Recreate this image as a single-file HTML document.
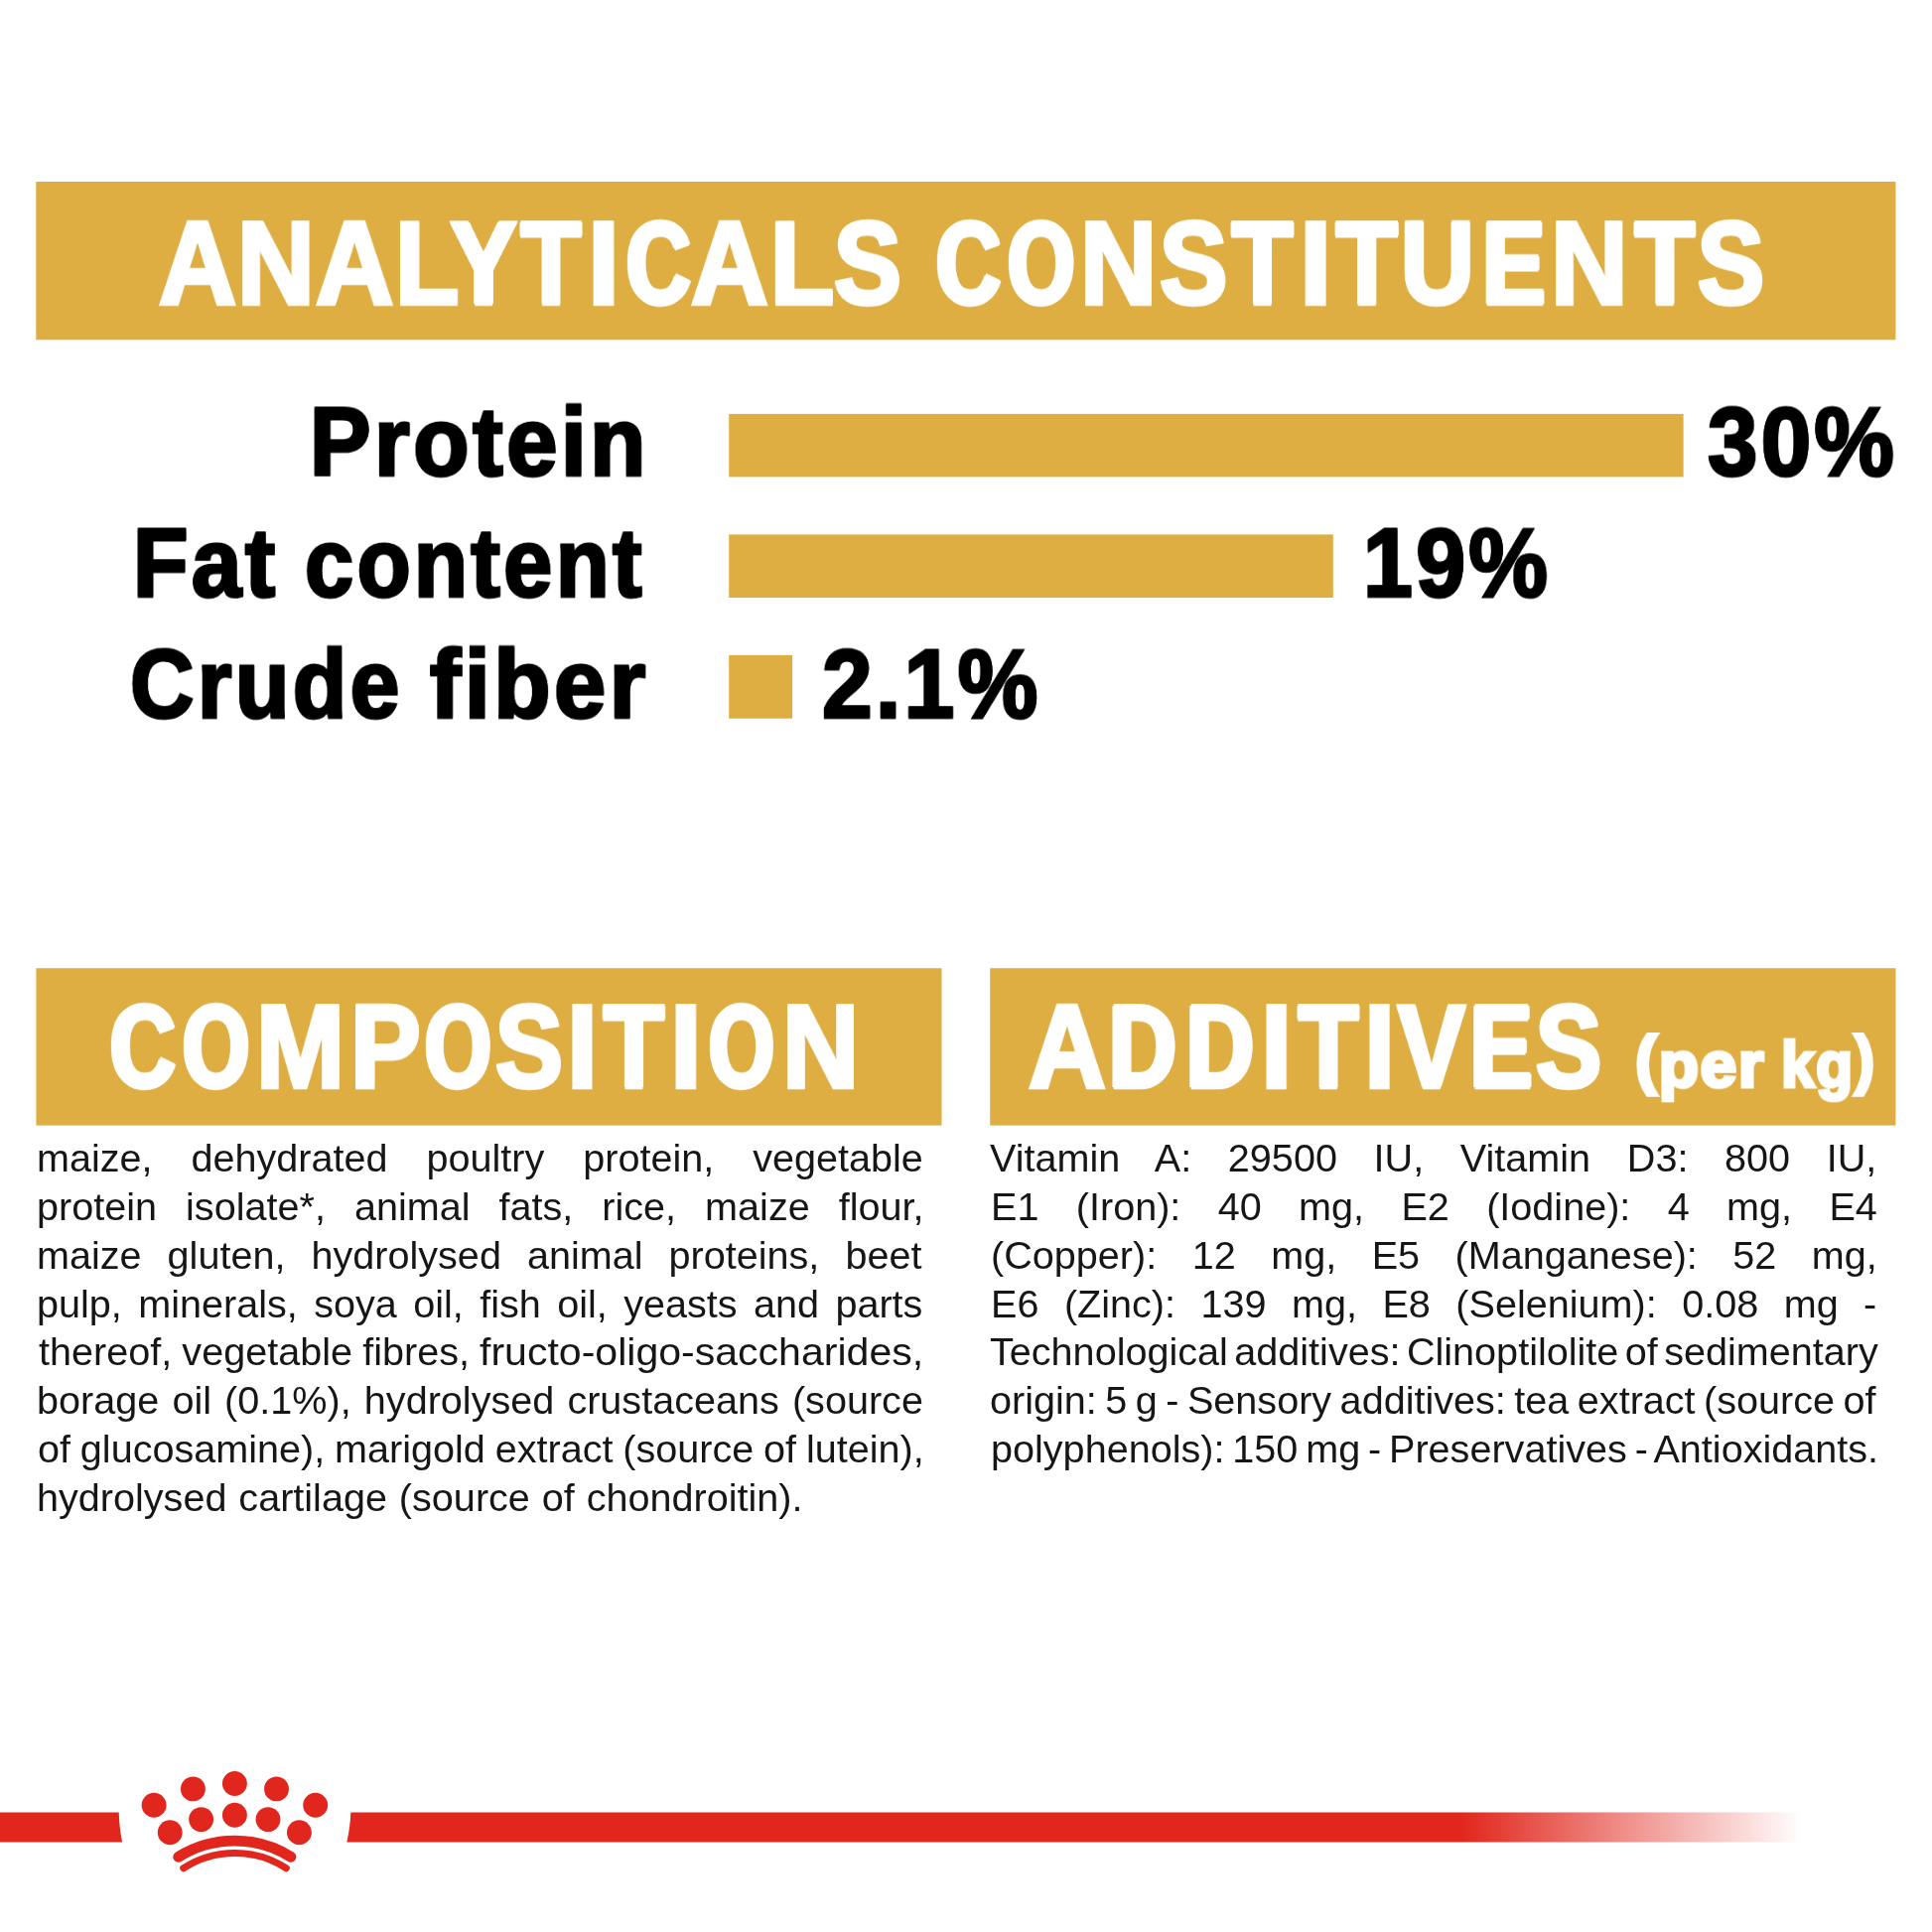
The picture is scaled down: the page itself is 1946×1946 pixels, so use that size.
<!DOCTYPE html>
<html><head><meta charset="utf-8"><title>Analytical constituents</title>
<style>
html,body{margin:0;padding:0;background:#fff}
body{width:1946px;height:1946px;position:relative;overflow:hidden;font-family:"Liberation Sans",sans-serif}
svg{position:absolute;left:0;top:0}
.t{position:absolute;white-space:pre;line-height:1;transform-origin:0 0;will-change:transform;font-family:"Liberation Sans",sans-serif}
.b{font-weight:bold}
.pr{font-style:normal;position:relative;top:-6px}
.p{font-size:39.0px;color:#161616}
</style></head><body>
<svg width="1946" height="1946" viewBox="0 0 1946 1946">
<rect x="36.3" y="183.0" width="1873.1" height="159.3" fill="#DFAE43"/><rect x="734.2" y="416.9" width="961.4" height="63.5" fill="#DFAE43"/><rect x="734.2" y="538.4" width="608.6" height="63.6" fill="#DFAE43"/><rect x="734.2" y="659.9" width="63.9" height="63.8" fill="#DFAE43"/><rect x="36.4" y="975.2" width="912.1" height="158.4" fill="#DFAE43"/><rect x="997.2" y="975.2" width="912.2" height="158.4" fill="#DFAE43"/>
<defs><linearGradient id="g" gradientUnits="userSpaceOnUse" x1="1472" y1="0" x2="1815" y2="0"><stop offset="0" stop-color="#E1271D"/><stop offset="1" stop-color="#E1271D" stop-opacity="0"/></linearGradient></defs><path d="M0 1825.6 H119.7 Q120.3 1842 123.1 1855.5 H0 Z" fill="#E1271D"/><path d="M353.3 1825.6 H1946 V1855.5 H349.3 Q352.6 1842 353.3 1825.6 Z" fill="url(#g)"/>
<g fill="#E1271D"><circle cx="155.1" cy="1818.3" r="12.45"/><circle cx="194.4" cy="1801.9" r="12.45"/><circle cx="236.4" cy="1796.5" r="12.45"/><circle cx="278.5" cy="1801.9" r="12.45"/><circle cx="317.7" cy="1818.3" r="12.45"/><circle cx="171.2" cy="1845.8" r="12.45"/><circle cx="202.6" cy="1832.6" r="12.45"/><circle cx="236.4" cy="1828.3" r="12.45"/><circle cx="270.0" cy="1832.6" r="12.45"/><circle cx="301.4" cy="1845.8" r="12.45"/><path d="M179.7 1870.3 A107.2 107.2 0 0 1 293.0 1870.3" fill="none" stroke="#E1271D" stroke-width="10.8" stroke-linecap="round"/><path d="M184.7 1881.7 A95.3 95.3 0 0 1 288.3 1881.7" fill="none" stroke="#E1271D" stroke-width="7.0" stroke-linecap="round"/></g>
</svg>
<span class="t b" style="left:159.80px;top:206.28px;font-size:124.5px;color:#fff;-webkit-text-stroke:4.5px #fff;transform:scale(0.8670,0.9511);text-shadow:1.00px 0 0 #fff,-1.00px 0 0 #fff,1.60px 0 0 #fff,-1.60px 0 0 #fff">A</span><span class="t b" style="left:238.72px;top:206.28px;font-size:124.5px;color:#fff;-webkit-text-stroke:4.5px #fff;transform:scale(0.8641,0.9511);text-shadow:1.00px 0 0 #fff,-1.00px 0 0 #fff,1.75px 0 0 #fff,-1.75px 0 0 #fff">N</span><span class="t b" style="left:317.80px;top:206.28px;font-size:124.5px;color:#fff;-webkit-text-stroke:4.5px #fff;transform:scale(0.8704,0.9511);text-shadow:1.00px 0 0 #fff,-1.00px 0 0 #fff,1.50px 0 0 #fff,-1.50px 0 0 #fff">A</span><span class="t b" style="left:397.54px;top:206.28px;font-size:124.5px;color:#fff;-webkit-text-stroke:4.5px #fff;transform:scale(0.8438,0.9511);text-shadow:1.00px 0 0 #fff,-1.00px 0 0 #fff,2.00px 0 0 #fff,-2.00px 0 0 #fff,2.35px 0 0 #fff,-2.35px 0 0 #fff">L</span><span class="t b" style="left:454.49px;top:206.28px;font-size:124.5px;color:#fff;-webkit-text-stroke:4.5px #fff;transform:scale(0.7942,0.9511);text-shadow:1.00px 0 0 #fff,-1.00px 0 0 #fff,2.00px 0 0 #fff,-2.00px 0 0 #fff,3.00px 0 0 #fff,-3.00px 0 0 #fff,3.35px 0 0 #fff,-3.35px 0 0 #fff">Y</span><span class="t b" style="left:525.48px;top:206.28px;font-size:124.5px;color:#fff;-webkit-text-stroke:4.5px #fff;transform:scale(0.7888,0.9511);text-shadow:1.00px 0 0 #fff,-1.00px 0 0 #fff,2.00px 0 0 #fff,-2.00px 0 0 #fff,3.00px 0 0 #fff,-3.00px 0 0 #fff,3.10px 0 0 #fff,-3.10px 0 0 #fff">T</span><span class="t b" style="left:592.28px;top:206.28px;font-size:124.5px;color:#fff;-webkit-text-stroke:4.5px #fff;transform:scale(0.9200,0.9511);text-shadow:1.00px 0 0 #fff,-1.00px 0 0 #fff">I</span><span class="t b" style="left:630.78px;top:206.28px;font-size:124.5px;color:#fff;-webkit-text-stroke:4.5px #fff;transform:scale(0.7173,0.9511);text-shadow:1.00px 0 0 #fff,-1.00px 0 0 #fff,2.00px 0 0 #fff,-2.00px 0 0 #fff,3.00px 0 0 #fff,-3.00px 0 0 #fff,4.00px 0 0 #fff,-4.00px 0 0 #fff">C</span><span class="t b" style="left:696.30px;top:206.28px;font-size:124.5px;color:#fff;-webkit-text-stroke:4.5px #fff;transform:scale(0.8626,0.9511);text-shadow:1.00px 0 0 #fff,-1.00px 0 0 #fff,1.70px 0 0 #fff,-1.70px 0 0 #fff">A</span><span class="t b" style="left:776.45px;top:206.28px;font-size:124.5px;color:#fff;-webkit-text-stroke:4.5px #fff;transform:scale(0.8409,0.9511);text-shadow:1.00px 0 0 #fff,-1.00px 0 0 #fff,2.00px 0 0 #fff,-2.00px 0 0 #fff,2.45px 0 0 #fff,-2.45px 0 0 #fff">L</span><span class="t b" style="left:840.09px;top:206.28px;font-size:124.5px;color:#fff;-webkit-text-stroke:4.5px #fff;transform:scale(0.8138,0.9511);text-shadow:1.00px 0 0 #fff,-1.00px 0 0 #fff,2.00px 0 0 #fff,-2.00px 0 0 #fff,2.80px 0 0 #fff,-2.80px 0 0 #fff">S</span> <span class="t b" style="left:943.38px;top:206.28px;font-size:124.5px;color:#fff;-webkit-text-stroke:4.5px #fff;transform:scale(0.7218,0.9511);text-shadow:1.00px 0 0 #fff,-1.00px 0 0 #fff,2.00px 0 0 #fff,-2.00px 0 0 #fff,3.00px 0 0 #fff,-3.00px 0 0 #fff,4.00px 0 0 #fff,-4.00px 0 0 #fff">C</span><span class="t b" style="left:1014.50px;top:206.28px;font-size:124.5px;color:#fff;-webkit-text-stroke:4.5px #fff;transform:scale(0.6952,0.9511);text-shadow:1.00px 0 0 #fff,-1.00px 0 0 #fff,2.00px 0 0 #fff,-2.00px 0 0 #fff,3.00px 0 0 #fff,-3.00px 0 0 #fff,4.00px 0 0 #fff,-4.00px 0 0 #fff">O</span><span class="t b" style="left:1088.35px;top:206.28px;font-size:124.5px;color:#fff;-webkit-text-stroke:4.5px #fff;transform:scale(0.8577,0.9511);text-shadow:1.00px 0 0 #fff,-1.00px 0 0 #fff,1.90px 0 0 #fff,-1.90px 0 0 #fff">N</span><span class="t b" style="left:1168.28px;top:206.28px;font-size:124.5px;color:#fff;-webkit-text-stroke:4.5px #fff;transform:scale(0.8213,0.9511);text-shadow:1.00px 0 0 #fff,-1.00px 0 0 #fff,2.00px 0 0 #fff,-2.00px 0 0 #fff,2.60px 0 0 #fff,-2.60px 0 0 #fff">S</span><span class="t b" style="left:1241.40px;top:206.28px;font-size:124.5px;color:#fff;-webkit-text-stroke:4.5px #fff;transform:scale(0.8025,0.9511);text-shadow:1.00px 0 0 #fff,-1.00px 0 0 #fff,2.00px 0 0 #fff,-2.00px 0 0 #fff,3.00px 0 0 #fff,-3.00px 0 0 #fff">T</span><span class="t b" style="left:1308.73px;top:206.28px;font-size:124.5px;color:#fff;-webkit-text-stroke:4.5px #fff;transform:scale(0.9289,0.9511);text-shadow:1.00px 0 0 #fff,-1.00px 0 0 #fff">I</span><span class="t b" style="left:1345.51px;top:206.28px;font-size:124.5px;color:#fff;-webkit-text-stroke:4.5px #fff;transform:scale(0.8063,0.9511);text-shadow:1.00px 0 0 #fff,-1.00px 0 0 #fff,2.00px 0 0 #fff,-2.00px 0 0 #fff,2.90px 0 0 #fff,-2.90px 0 0 #fff">T</span><span class="t b" style="left:1411.30px;top:206.28px;font-size:124.5px;color:#fff;-webkit-text-stroke:4.5px #fff;transform:scale(0.8200,0.9511);text-shadow:1.00px 0 0 #fff,-1.00px 0 0 #fff,2.00px 0 0 #fff,-2.00px 0 0 #fff,2.65px 0 0 #fff,-2.65px 0 0 #fff">U</span><span class="t b" style="left:1493.27px;top:206.28px;font-size:124.5px;color:#fff;-webkit-text-stroke:4.5px #fff;transform:scale(0.7626,0.9511);text-shadow:1.00px 0 0 #fff,-1.00px 0 0 #fff,2.00px 0 0 #fff,-2.00px 0 0 #fff,3.00px 0 0 #fff,-3.00px 0 0 #fff,3.60px 0 0 #fff,-3.60px 0 0 #fff">E</span><span class="t b" style="left:1561.83px;top:206.28px;font-size:124.5px;color:#fff;-webkit-text-stroke:4.5px #fff;transform:scale(0.8615,0.9511);text-shadow:1.00px 0 0 #fff,-1.00px 0 0 #fff,1.80px 0 0 #fff,-1.80px 0 0 #fff">N</span><span class="t b" style="left:1646.57px;top:206.28px;font-size:124.5px;color:#fff;-webkit-text-stroke:4.5px #fff;transform:scale(0.7863,0.9511);text-shadow:1.00px 0 0 #fff,-1.00px 0 0 #fff,2.00px 0 0 #fff,-2.00px 0 0 #fff,3.00px 0 0 #fff,-3.00px 0 0 #fff,3.15px 0 0 #fff,-3.15px 0 0 #fff">T</span><span class="t b" style="left:1710.10px;top:206.28px;font-size:124.5px;color:#fff;-webkit-text-stroke:4.5px #fff;transform:scale(0.8037,0.9511);text-shadow:1.00px 0 0 #fff,-1.00px 0 0 #fff,2.00px 0 0 #fff,-2.00px 0 0 #fff,2.95px 0 0 #fff,-2.95px 0 0 #fff">S</span>
<span class="t b" style="left:311.78px;top:396.23px;font-size:102.8px;color:#000;-webkit-text-stroke:3px #000;transform:scale(0.8948,0.9619);text-shadow:1.00px 0 0 #000,-1.00px 0 0 #000,1.50px 0 0 #000,-1.50px 0 0 #000;letter-spacing:4px">Protein</span> <span class="t b" style="left:1720.16px;top:396.23px;font-size:102.8px;color:#000;-webkit-text-stroke:3px #000;transform:scale(0.8788,0.9619);text-shadow:1.00px 0 0 #000,-1.00px 0 0 #000,1.50px 0 0 #000,-1.50px 0 0 #000;letter-spacing:4px">30%</span>
<span class="t b" style="left:134.25px;top:517.93px;font-size:102.8px;color:#000;-webkit-text-stroke:3px #000;transform:scale(0.8815,0.9619);text-shadow:1.00px 0 0 #000,-1.00px 0 0 #000,1.50px 0 0 #000,-1.50px 0 0 #000;letter-spacing:4px">Fat</span> <span class="t b" style="left:307.25px;top:517.93px;font-size:102.8px;color:#000;-webkit-text-stroke:3px #000;transform:scale(0.8590,0.9619);text-shadow:1.00px 0 0 #000,-1.00px 0 0 #000,1.50px 0 0 #000,-1.50px 0 0 #000;letter-spacing:4px">content</span> <span class="t b" style="left:1373.25px;top:517.93px;font-size:102.8px;color:#000;-webkit-text-stroke:3px #000;transform:scale(0.8699,0.9619);text-shadow:1.00px 0 0 #000,-1.00px 0 0 #000,1.50px 0 0 #000,-1.50px 0 0 #000;letter-spacing:4px">19%</span>
<span class="t b" style="left:131.13px;top:639.53px;font-size:102.8px;color:#000;-webkit-text-stroke:3px #000;transform:scale(0.8668,0.9619);text-shadow:1.00px 0 0 #000,-1.00px 0 0 #000,1.50px 0 0 #000,-1.50px 0 0 #000;letter-spacing:4px">Crude</span> <span class="t b" style="left:433.30px;top:639.53px;font-size:102.8px;color:#000;-webkit-text-stroke:3px #000;transform:scale(0.9096,0.9619);text-shadow:1.00px 0 0 #000,-1.00px 0 0 #000,1.50px 0 0 #000,-1.50px 0 0 #000;letter-spacing:4px">fiber</span> <span class="t b" style="left:827.64px;top:639.53px;font-size:102.8px;color:#000;-webkit-text-stroke:3px #000;transform:scale(0.8819,0.9619);text-shadow:1.00px 0 0 #000,-1.00px 0 0 #000,1.50px 0 0 #000,-1.50px 0 0 #000;letter-spacing:4px">2.1%</span>
<span class="t b" style="left:111.27px;top:995.06px;font-size:124.7px;color:#fff;-webkit-text-stroke:4.5px #fff;transform:scale(0.7285,0.9522);text-shadow:1.00px 0 0 #fff,-1.00px 0 0 #fff,2.00px 0 0 #fff,-2.00px 0 0 #fff,3.00px 0 0 #fff,-3.00px 0 0 #fff,4.00px 0 0 #fff,-4.00px 0 0 #fff">C</span><span class="t b" style="left:183.61px;top:995.06px;font-size:124.7px;color:#fff;-webkit-text-stroke:4.5px #fff;transform:scale(0.6910,0.9522);text-shadow:1.00px 0 0 #fff,-1.00px 0 0 #fff,2.00px 0 0 #fff,-2.00px 0 0 #fff,3.00px 0 0 #fff,-3.00px 0 0 #fff,4.00px 0 0 #fff,-4.00px 0 0 #fff">O</span><span class="t b" style="left:257.87px;top:995.06px;font-size:124.7px;color:#fff;-webkit-text-stroke:4.5px #fff;transform:scale(0.8554,0.9522);text-shadow:1.00px 0 0 #fff,-1.00px 0 0 #fff,1.80px 0 0 #fff,-1.80px 0 0 #fff">M</span><span class="t b" style="left:352.50px;top:995.06px;font-size:124.7px;color:#fff;-webkit-text-stroke:4.5px #fff;transform:scale(0.8493,0.9522);text-shadow:1.00px 0 0 #fff,-1.00px 0 0 #fff,2.00px 0 0 #fff,-2.00px 0 0 #fff,2.10px 0 0 #fff,-2.10px 0 0 #fff">P</span><span class="t b" style="left:427.61px;top:995.06px;font-size:124.7px;color:#fff;-webkit-text-stroke:4.5px #fff;transform:scale(0.6868,0.9522);text-shadow:1.00px 0 0 #fff,-1.00px 0 0 #fff,2.00px 0 0 #fff,-2.00px 0 0 #fff,3.00px 0 0 #fff,-3.00px 0 0 #fff,4.00px 0 0 #fff,-4.00px 0 0 #fff">O</span><span class="t b" style="left:498.58px;top:995.06px;font-size:124.7px;color:#fff;-webkit-text-stroke:4.5px #fff;transform:scale(0.8150,0.9522);text-shadow:1.00px 0 0 #fff,-1.00px 0 0 #fff,2.00px 0 0 #fff,-2.00px 0 0 #fff,2.75px 0 0 #fff,-2.75px 0 0 #fff">S</span><span class="t b" style="left:571.17px;top:995.06px;font-size:124.7px;color:#fff;-webkit-text-stroke:4.5px #fff;transform:scale(0.8889,0.9522);text-shadow:1.00px 0 0 #fff,-1.00px 0 0 #fff">I</span><span class="t b" style="left:607.70px;top:995.06px;font-size:124.7px;color:#fff;-webkit-text-stroke:4.5px #fff;transform:scale(0.7987,0.9522);text-shadow:1.00px 0 0 #fff,-1.00px 0 0 #fff,2.00px 0 0 #fff,-2.00px 0 0 #fff,2.95px 0 0 #fff,-2.95px 0 0 #fff">T</span><span class="t b" style="left:674.93px;top:995.06px;font-size:124.7px;color:#fff;-webkit-text-stroke:4.5px #fff;transform:scale(0.9111,0.9522);text-shadow:1.00px 0 0 #fff,-1.00px 0 0 #fff">I</span><span class="t b" style="left:713.92px;top:995.06px;font-size:124.7px;color:#fff;-webkit-text-stroke:4.5px #fff;transform:scale(0.6783,0.9522);text-shadow:1.00px 0 0 #fff,-1.00px 0 0 #fff,2.00px 0 0 #fff,-2.00px 0 0 #fff,3.00px 0 0 #fff,-3.00px 0 0 #fff,4.00px 0 0 #fff,-4.00px 0 0 #fff">O</span><span class="t b" style="left:787.66px;top:995.06px;font-size:124.7px;color:#fff;-webkit-text-stroke:4.5px #fff;transform:scale(0.8564,0.9522);text-shadow:1.00px 0 0 #fff,-1.00px 0 0 #fff,1.90px 0 0 #fff,-1.90px 0 0 #fff">N</span>
<span class="t b" style="left:1035.90px;top:995.06px;font-size:124.7px;color:#fff;-webkit-text-stroke:4.5px #fff;transform:scale(0.8622,0.9522);text-shadow:1.00px 0 0 #fff,-1.00px 0 0 #fff,1.70px 0 0 #fff,-1.70px 0 0 #fff">A</span><span class="t b" style="left:1117.02px;top:995.06px;font-size:124.7px;color:#fff;-webkit-text-stroke:4.5px #fff;transform:scale(0.7512,0.9522);text-shadow:1.00px 0 0 #fff,-1.00px 0 0 #fff,2.00px 0 0 #fff,-2.00px 0 0 #fff,3.00px 0 0 #fff,-3.00px 0 0 #fff,3.85px 0 0 #fff,-3.85px 0 0 #fff">D</span><span class="t b" style="left:1194.92px;top:995.06px;font-size:124.7px;color:#fff;-webkit-text-stroke:4.5px #fff;transform:scale(0.7500,0.9522);text-shadow:1.00px 0 0 #fff,-1.00px 0 0 #fff,2.00px 0 0 #fff,-2.00px 0 0 #fff,3.00px 0 0 #fff,-3.00px 0 0 #fff,3.90px 0 0 #fff,-3.90px 0 0 #fff">D</span><span class="t b" style="left:1269.99px;top:995.06px;font-size:124.7px;color:#fff;-webkit-text-stroke:4.5px #fff;transform:scale(0.9022,0.9522);text-shadow:1.00px 0 0 #fff,-1.00px 0 0 #fff">I</span><span class="t b" style="left:1308.08px;top:995.06px;font-size:124.7px;color:#fff;-webkit-text-stroke:4.5px #fff;transform:scale(0.7887,0.9522);text-shadow:1.00px 0 0 #fff,-1.00px 0 0 #fff,2.00px 0 0 #fff,-2.00px 0 0 #fff,3.00px 0 0 #fff,-3.00px 0 0 #fff,3.10px 0 0 #fff,-3.10px 0 0 #fff">T</span><span class="t b" style="left:1374.41px;top:995.06px;font-size:124.7px;color:#fff;-webkit-text-stroke:4.5px #fff;transform:scale(0.8978,0.9522);text-shadow:1.00px 0 0 #fff,-1.00px 0 0 #fff">I</span><span class="t b" style="left:1407.83px;top:995.06px;font-size:124.7px;color:#fff;-webkit-text-stroke:4.5px #fff;transform:scale(0.8136,0.9522);text-shadow:1.00px 0 0 #fff,-1.00px 0 0 #fff,2.00px 0 0 #fff,-2.00px 0 0 #fff,2.80px 0 0 #fff,-2.80px 0 0 #fff">V</span><span class="t b" style="left:1481.44px;top:995.06px;font-size:124.7px;color:#fff;-webkit-text-stroke:4.5px #fff;transform:scale(0.7462,0.9522);text-shadow:1.00px 0 0 #fff,-1.00px 0 0 #fff,2.00px 0 0 #fff,-2.00px 0 0 #fff,3.00px 0 0 #fff,-3.00px 0 0 #fff,4.00px 0 0 #fff,-4.00px 0 0 #fff">E</span><span class="t b" style="left:1547.40px;top:995.06px;font-size:124.7px;color:#fff;-webkit-text-stroke:4.5px #fff;transform:scale(0.7926,0.9522);text-shadow:1.00px 0 0 #fff,-1.00px 0 0 #fff,2.00px 0 0 #fff,-2.00px 0 0 #fff,3.00px 0 0 #fff,-3.00px 0 0 #fff,3.10px 0 0 #fff,-3.10px 0 0 #fff">S</span> <span class="t b" style="left:1647.20px;top:1040.25px;font-size:70.2px;color:#fff;-webkit-text-stroke:4px #fff;transform:scale(0.9341,0.9255);text-shadow:1.00px 0 0 #fff,-1.00px 0 0 #fff,1.50px 0 0 #fff,-1.50px 0 0 #fff;letter-spacing:2px"><i class="pr">(</i>per</span> <span class="t b" style="left:1794.12px;top:1040.25px;font-size:70.2px;color:#fff;-webkit-text-stroke:4px #fff;transform:scale(0.8593,0.9255);text-shadow:1.00px 0 0 #fff,-1.00px 0 0 #fff,1.50px 0 0 #fff,-1.50px 0 0 #fff;letter-spacing:2px">kg<i class="pr">)</i></span>

<span class="t p" style="left:36.86px;top:1147.20px;word-spacing:27.492px;transform:scale(1.0150,1)">maize, dehydrated poultry protein, vegetable</span>
<span class="t p" style="left:36.86px;top:1196.00px;word-spacing:17.747px;transform:scale(1.0150,1)">protein isolate*, animal fats, rice, maize flour,</span>
<span class="t p" style="left:36.86px;top:1244.80px;word-spacing:14.794px;transform:scale(1.0150,1)">maize gluten, hydrolysed animal proteins, beet</span>
<span class="t p" style="left:36.86px;top:1293.60px;word-spacing:5.308px;transform:scale(1.0150,1)">pulp, minerals, soya oil, fish oil, yeasts and parts</span>
<span class="t p" style="left:38.89px;top:1342.40px;word-spacing:-0.874px;transform:scale(1.0150,1)">thereof, vegetable fibres,</span> <span class="t p" style="left:483.37px;top:1342.40px;word-spacing:0.000px;transform:scale(1.0525,1)">fructo-oligo-saccharides,</span>
<span class="t p" style="left:36.86px;top:1391.20px;word-spacing:2.094px;transform:scale(1.0150,1)">borage oil (0.1%), hydrolysed crustaceans (source</span>
<span class="t p" style="left:37.88px;top:1440.00px;word-spacing:-1.170px;transform:scale(1.0150,1)">of glucosamine), marigold extract (source of lutein),</span>
<span class="t p" style="left:36.86px;top:1488.80px;word-spacing:0.897px;transform:scale(1.0150,1)">hydrolysed cartilage (source of chondroitin).</span>
<span class="t p" style="left:997.49px;top:1147.20px;word-spacing:25.294px;transform:scale(1.0150,1)">Vitamin A: 29500 IU, Vitamin D3: 800 IU,</span>
<span class="t p" style="left:997.56px;top:1196.00px;word-spacing:25.958px;transform:scale(1.0150,1)">E1 (Iron): 40 mg, E2 (Iodine): 4 mg, E4</span>
<span class="t p" style="left:997.76px;top:1244.80px;word-spacing:24.132px;transform:scale(1.0150,1)">(Copper): 12 mg, E5 (Manganese): 52 mg,</span>
<span class="t p" style="left:997.56px;top:1293.60px;word-spacing:14.248px;transform:scale(1.0150,1)">E6 (Zinc): 139 mg, E8 (Selenium): 0.08 mg -</span>
<span class="t p" style="left:997.38px;top:1342.40px;word-spacing:-4.526px;transform:scale(1.0150,1)">Technological additives: Clinoptilolite of sedimentary</span>
<span class="t p" style="left:997.38px;top:1391.20px;word-spacing:-2.486px;transform:scale(1.0150,1)">origin: 5 g - Sensory additives: tea extract (source of</span>
<span class="t p" style="left:997.76px;top:1440.00px;word-spacing:-3.120px;transform:scale(1.0150,1)">polyphenols): 150 mg - Preservatives - Antioxidants.</span>

</body></html>
